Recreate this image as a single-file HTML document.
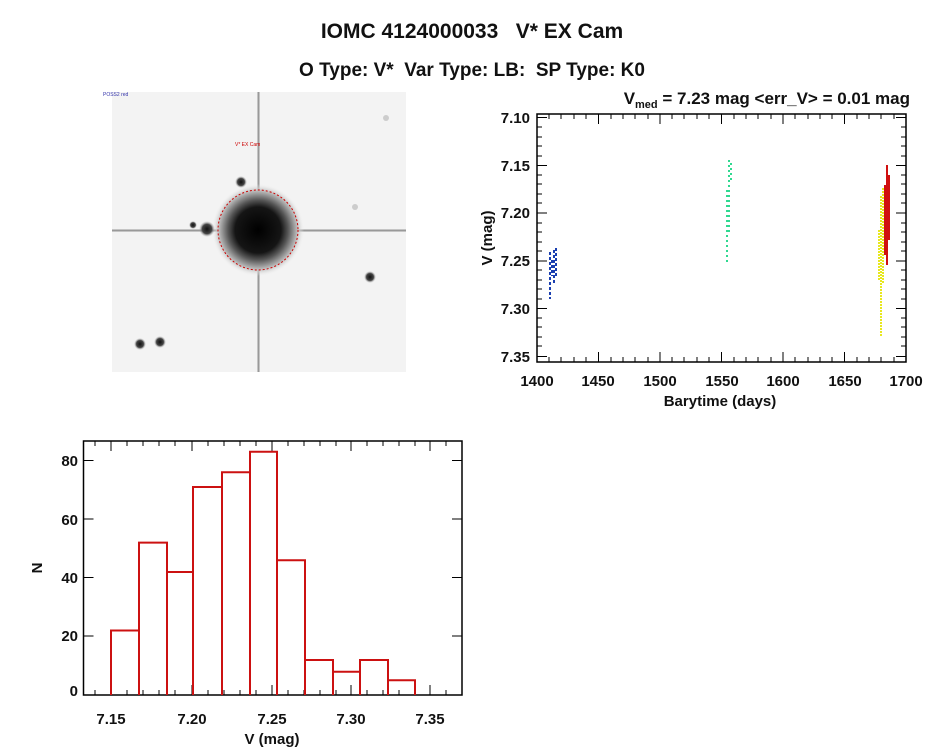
<!DOCTYPE html>
<html><head><meta charset="utf-8"><style>
html,body{margin:0;padding:0;background:#fff;}
svg{display:block;font-family:"Liberation Sans",sans-serif;}
</style></head><body>
<svg width="944" height="747" viewBox="0 0 944 747" xmlns="http://www.w3.org/2000/svg">
<defs>
<radialGradient id="core" cx="0.5" cy="0.5" r="0.5">
<stop offset="0" stop-color="#000"/><stop offset="0.5" stop-color="#151515"/><stop offset="0.65" stop-color="#555"/><stop offset="0.85" stop-color="#bbb"/><stop offset="1" stop-color="#eee" stop-opacity="0"/>
</radialGradient>
<radialGradient id="st" cx="0.5" cy="0.5" r="0.5">
<stop offset="0" stop-color="#111"/><stop offset="0.6" stop-color="#444"/><stop offset="1" stop-color="#bbb" stop-opacity="0"/>
</radialGradient>
</defs>
<g font-weight="bold" fill="#111">
<text x="472" y="38" font-size="21" text-anchor="middle" xml:space="preserve">IOMC 4124000033   V* EX Cam</text>
<text x="472" y="76" font-size="19" text-anchor="middle" xml:space="preserve">O Type: V*  Var Type: LB:  SP Type: K0</text>
</g>

<!-- image -->
<rect x="112" y="92" width="294" height="280" fill="#f3f3f3"/>
<rect x="257" y="92" width="3" height="280" fill="#c4c4c4"/>
<rect x="112" y="229" width="294" height="3" fill="#c4c4c4"/>
<rect x="258" y="92" width="1" height="280" fill="#999"/>
<rect x="112" y="230" width="294" height="1" fill="#999"/>
<circle cx="258" cy="230" r="46" fill="url(#core)"/>
<circle cx="258" cy="230" r="40" fill="none" stroke="#c00" stroke-width="1" stroke-dasharray="2,2"/>
<circle cx="241" cy="182" r="6" fill="url(#st)"/>
<circle cx="207" cy="229" r="8" fill="url(#st)"/>
<circle cx="193" cy="225" r="4" fill="url(#st)"/>
<circle cx="370" cy="277" r="6" fill="url(#st)"/>
<circle cx="140" cy="344" r="6" fill="url(#st)"/>
<circle cx="160" cy="342" r="6" fill="url(#st)"/>
<circle cx="355" cy="207" r="3" fill="#ccc"/>
<circle cx="386" cy="118" r="3" fill="#ccc"/>
<text x="235" y="146" font-size="5" fill="#c00">V* EX Cam</text>
<text x="103" y="96" font-size="5" fill="#33a">POSS2 red</text>

<!-- light curve -->
<text x="910" y="104" font-size="17" text-anchor="end" font-weight="bold" fill="#111">V<tspan font-size="11" dy="4">med</tspan><tspan dy="-4"> = 7.23 mag &lt;err_V&gt; = 0.01 mag</tspan></text>
<rect x="537" y="114" width="369" height="248" fill="none" stroke="#000" stroke-width="1.5"/>
<g stroke="#000" stroke-width="1">
<path d="M537 117.5h10M906 117.5h-10M537 165.5h10M906 165.5h-10M537 213h10M906 213h-10M537 261h10M906 261h-10M537 308.5h10M906 308.5h-10M537 356.5h10M906 356.5h-10"/>
<path d="M537 127h5M537 137h5M537 146h5M537 156h5M537 175h5M537 184h5M537 194h5M537 203h5M537 223h5M537 232h5M537 242h5M537 251h5M537 270h5M537 280h5M537 289h5M537 299h5M537 318h5M537 327h5M537 337h5M537 346h5"/>
<path d="M906 127h-5M906 137h-5M906 146h-5M906 156h-5M906 175h-5M906 184h-5M906 194h-5M906 203h-5M906 223h-5M906 232h-5M906 242h-5M906 251h-5M906 270h-5M906 280h-5M906 289h-5M906 299h-5M906 318h-5M906 327h-5M906 337h-5M906 346h-5"/>
<path d="M598.5 362v-10M660 362v-10M721.5 362v-10M783 362v-10M844.5 362v-10M598.5 114v10M660 114v10M721.5 114v10M783 114v10M844.5 114v10"/>
<path d="M549 362v-5M561 362v-5M574 362v-5M586 362v-5M611 362v-5M623 362v-5M635 362v-5M648 362v-5M672 362v-5M684 362v-5M697 362v-5M709 362v-5M734 362v-5M746 362v-5M758 362v-5M771 362v-5M795 362v-5M808 362v-5M820 362v-5M832 362v-5M857 362v-5M869 362v-5M881 362v-5M894 362v-5"/>
<path d="M549 114v5M561 114v5M574 114v5M586 114v5M611 114v5M623 114v5M635 114v5M648 114v5M672 114v5M684 114v5M697 114v5M709 114v5M734 114v5M746 114v5M758 114v5M771 114v5M795 114v5M808 114v5M820 114v5M832 114v5M857 114v5M869 114v5M881 114v5M894 114v5"/>
</g>
<g font-size="15" text-anchor="end" font-weight="bold" fill="#111">
<text x="530" y="123">7.10</text><text x="530" y="171">7.15</text><text x="530" y="218">7.20</text><text x="530" y="266">7.25</text><text x="530" y="314">7.30</text><text x="530" y="362">7.35</text>
</g>
<g font-size="15" text-anchor="middle" font-weight="bold" fill="#111">
<text x="537" y="386">1400</text><text x="598" y="386">1450</text><text x="660" y="386">1500</text><text x="722" y="386">1550</text><text x="783" y="386">1600</text><text x="845" y="386">1650</text><text x="906" y="386">1700</text>
<text x="720" y="406">Barytime (days)</text>
</g>
<text transform="translate(492,238) rotate(-90)" font-size="15" text-anchor="middle" font-weight="bold" fill="#111">V (mag)</text>
<!-- data -->
<g stroke="#1a3fb0" stroke-width="2" stroke-dasharray="3,2">
<path d="M550 252v47M552 260v16M554 250v34M556 248v30"/>
</g>
<g stroke="#30d890" stroke-width="2" stroke-dasharray="2,3">
<path d="M727 190v73M729 160v75M731 163v20"/>
</g>
<g stroke="#e8e820" stroke-width="2" stroke-dasharray="2,1">
<path d="M879 230v50M881 196v140M883 188v95"/>
</g>
<g stroke="#d01010" stroke-width="2">
<path d="M885 185v70M887 165v100M889 175v65"/>
</g>

<!-- histogram -->
<rect x="83.5" y="441" width="378.5" height="254" fill="none" stroke="#000" stroke-width="1.5"/>
<g stroke="#000" stroke-width="1">
<path d="M83.5 460.5h10M462 460.5h-10M83.5 519h10M462 519h-10M83.5 577.5h10M462 577.5h-10M83.5 636h10M462 636h-10"/>
<path d="M111 695v-10M192 695v-10M272 695v-10M351 695v-10M430 695v-10M111 441v10M192 441v10M272 441v10M351 441v10M430 441v10"/>
<path d="M95 695v-5M127 695v-5M143 695v-5M159 695v-5M175 695v-5M208 695v-5M224 695v-5M240 695v-5M256 695v-5M288 695v-5M304 695v-5M320 695v-5M336 695v-5M367 695v-5M383 695v-5M399 695v-5M415 695v-5M446 695v-5"/>
<path d="M95 441v5M127 441v5M143 441v5M159 441v5M175 441v5M208 441v5M224 441v5M240 441v5M256 441v5M288 441v5M304 441v5M320 441v5M336 441v5M367 441v5M383 441v5M399 441v5M415 441v5M446 441v5"/>
</g>
<g font-size="15" text-anchor="end" font-weight="bold" fill="#111">
<text x="78" y="466">80</text><text x="78" y="525">60</text><text x="78" y="583">40</text><text x="78" y="641">20</text><text x="78" y="696">0</text>
</g>
<g font-size="15" text-anchor="middle" font-weight="bold" fill="#111">
<text x="111" y="724">7.15</text><text x="192" y="724">7.20</text><text x="272" y="724">7.25</text><text x="351" y="724">7.30</text><text x="430" y="724">7.35</text>
<text x="272" y="744">V (mag)</text>
</g>
<text transform="translate(42,568) rotate(-90)" font-size="15" text-anchor="middle" font-weight="bold" fill="#111">N</text>
<path fill="none" stroke="#cc1111" stroke-width="2" d="M111 695V630.5H139V542.6H167V572H193V487H222V472.3H250V451.8H277V560.2H305V660H333V671.7H360V660H388V680.3H415V695"/>
<path fill="none" stroke="#cc1111" stroke-width="2" d="M139 695V630.5M167 695V572M193 695V572M222 695V487M250 695V472.3M277 695V560.2M305 695V660M333 695V671.7M360 695V671.7M388 695V680.3"/>
</svg>
</body></html>
